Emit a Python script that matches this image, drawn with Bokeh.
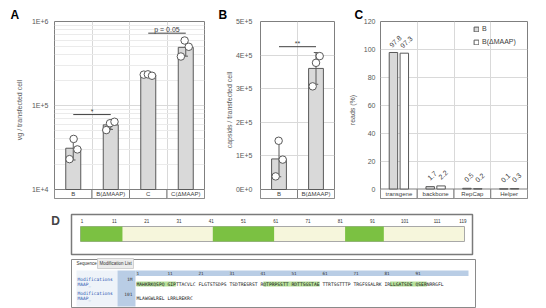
import math
import numpy as np
from bokeh.plotting import figure
from bokeh.layouts import column, row
from bokeh.models import Range1d, FixedTicker, Label, Legend, LegendItem, Grid
from bokeh.core.properties import value
from bokeh.embed import file_html
from bokeh.resources import INLINE

SANS = "Liberation Sans"
MONO = "DejaVu Sans Mono"
AX = "#595959"
GRID = "#d9d9d9"
FRAME = "#7f7f7f"

# ---------------- data ----------------
a_cats = ["B", "B(ΔMAAP)", "C", "C(ΔMAAP)"]
a_reps = [[4.0e4, 3.0e4, 2.3e4], [5.1e4, 6.15e4, 6.4e4],
          [2.33e5, 2.35e5, 2.26e5], [5.94e5, 5.0e5, 3.83e5]]
a_jit = [[0.01, 0.11, -0.10], [-0.12, -0.02, 0.10], [-0.12, -0.01, 0.10], [-0.03, 0.08, -0.13]]
a_ticks = [10000, 100000, 1000000]
a_tick_labels = ["1E+4", "1E+5", "1E+6"]
a_sig_left = [0, 2]
a_sig_right = [1, 3]
a_sig_y = [7.8e4, 7.26e5]
a_sig_text = ["*", "p = 0.05"]

b_cats = ["B", "B(ΔMAAP)"]
b_reps = [[1.45e5, 0.89e5, 0.39e5], [3.97e5, 3.77e5, 3.07e5]]
b_jit = [[-0.01, 0.10, -0.09], [0.10, 0.0, -0.09]]
b_ticks = [0, 100000, 200000, 300000, 400000, 500000]
b_tick_labels = ["0E+0", "1E+5", "2E+5", "3E+5", "4E+5", "5E+5"]
b_sig_left = [0]
b_sig_right = [1]
b_sig_y = [4.25e5]
b_sig_text = ["**"]

c_cats = ["transgene", "backbone", "RepCap", "Helper"]
c_series = ["B", "B(ΔMAAP)"]
c_B = [97.8, 1.7, 0.5, 0.1]
c_dM = [97.3, 2.2, 0.2, 0.3]
c_ticks = [0, 20, 40, 60, 80, 100, 120]

d_length = 119
d_dom_start = [1, 42, 83]
d_dom_end = [13, 60, 94]
d_ruler = [1, 11, 21, 31, 41, 51, 61, 71, 81, 91, 101, 111, 119]
d_seq_row1 = ["MAHKRKQSPQ", "GIPTTACVLC", "FLGTSTSDPS", "TSDTRESRST", "RQTPRPSSTT",
              "RDTTSGSTAE", "TTRTSGTTTP", "TRGFSSALRK", "IRLLGATSDE", "QSERNRRGFL"]
d_seq_row2 = ["MLAWGWLREL", "LRRLREKRC"]
d_tabs = ["Sequence", "Modification List"]


# ---------------- helpers ----------------
def base_fig(n, width, mbl, mbr, y_range, y_type, ticks, tick_labels, standoff,
             letter, letter_offset, ylabel, ylabel_standoff, minor=None):
    p = figure(width=width, height=205, x_range=Range1d(0, n), y_range=y_range,
               y_axis_type=y_type, x_axis_location=None, output_backend="svg",
               toolbar_location=None, min_border_left=mbl, min_border_right=mbr,
               min_border_top=21, min_border_bottom=7)
    p.outline_line_color = FRAME
    p.outline_line_width = 1
    p.grid.visible = False
    p.add_layout(Grid(dimension=0, ticker=FixedTicker(ticks=list(range(1, n))),
                      grid_line_color=GRID, grid_line_width=1))
    p.add_layout(Grid(dimension=1, ticker=FixedTicker(ticks=ticks, minor_ticks=minor or []),
                      grid_line_color=GRID, grid_line_width=1,
                      minor_grid_line_color="#ebebeb" if minor else None))
    ax = p.yaxis[0]
    ax.ticker = FixedTicker(ticks=ticks)
    ax.major_label_overrides = {t: l for t, l in zip(ticks, tick_labels)}
    ax.axis_line_color = None
    ax.major_tick_line_color = None
    ax.minor_tick_line_color = None
    ax.major_tick_out = 0
    ax.major_tick_in = 0
    ax.minor_tick_out = 0
    ax.major_label_standoff = standoff
    ax.major_label_text_font = SANS
    ax.major_label_text_font_size = "7px"
    ax.major_label_text_color = AX
    ax.axis_label = ylabel
    ax.axis_label_standoff = ylabel_standoff
    ax.axis_label_text_font = SANS
    ax.axis_label_text_font_size = "7px"
    ax.axis_label_text_font_style = "normal"
    ax.axis_label_text_color = AX
    p.title.text = letter
    p.title.align = "left"
    p.title.offset = letter_offset
    p.title.standoff = 0
    p.title.text_font = SANS
    p.title.text_font_size = "12px"
    p.title.text_font_style = "bold"
    p.title.text_color = "black"
    return p


def strip(p, cats, lo, hi, mid):
    n = len(cats)
    p.quad(left=list(range(n)), right=list(range(1, n + 1)), bottom=[lo] * n, top=[hi] * n,
           fill_color="white", line_color=FRAME, line_width=1)
    p.text(x=[i + 0.5 for i in range(n)], y=[mid] * n, text=cats, text_align="center",
           text_baseline="middle", text_font=value(SANS), text_font_size="6px",
           text_color="#404040")


def bars_with_dots(p, reps, jit, base):
    n = len(reps)
    xs = [i + 0.5 for i in range(n)]
    means = [float(np.mean(r)) for r in reps]
    sds = [float(np.std(r, ddof=1)) for r in reps]
    p.vbar(x=xs, width=0.4, bottom=[base] * n, top=means, fill_color="#d9d9d9",
           line_color="#595959", line_width=1)
    p.segment(x0=xs, x1=xs, y0=[m - s for m, s in zip(means, sds)],
              y1=[m + s for m, s in zip(means, sds)], line_color="#595959", line_width=1)
    cap = 0.06
    for sign in (-1, 1):
        ys = [m + sign * s for m, s in zip(means, sds)]
        p.segment(x0=[x - cap for x in xs], x1=[x + cap for x in xs], y0=ys, y1=ys,
                  line_color="#595959", line_width=1)
    dx, dy = [], []
    for i, (r, j) in enumerate(zip(reps, jit)):
        for v, o in zip(r, j):
            dx.append(i + 0.5 + o)
            dy.append(v)
    p.scatter(x=dx, y=dy, size=7.5, marker="circle", fill_color="white",
              line_color="#595959", line_width=1)


def sig(p, left, right, ys, texts):
    x0 = [l + 0.5 for l in left]
    x1 = [r + 0.5 for r in right]
    p.segment(x0=x0, x1=x1, y0=ys, y1=ys, line_color="#404040", line_width=1)
    p.text(x=[(a + b) / 2 for a, b in zip(x0, x1)], y=ys, text=texts, text_align="center",
           text_baseline="bottom", text_font=value(SANS), text_font_size="7px",
           text_color="#404040", y_offset=0)


# ---------------- panel A ----------------
FRAC = 9 / 168
a_lo, a_hi = a_ticks[0], a_ticks[-1]
a_strip = a_lo * 10 ** (-math.log10(a_hi / a_lo) * FRAC)
pA = base_fig(4, 215, 54, 11, Range1d(a_strip, a_hi), "log", a_ticks, a_tick_labels, 6,
              "A", -44, "vg / transfected cell", 6,
              minor=[k * 10 ** e for e in (4, 5) for k in range(2, 10)])
strip(pA, a_cats, a_strip, a_lo, math.sqrt(a_strip * a_lo))
bars_with_dots(pA, a_reps, a_jit, a_lo)
sig(pA, a_sig_left, a_sig_right, a_sig_y, a_sig_text)

# ---------------- panel B ----------------
b_lo, b_hi = b_ticks[0], b_ticks[-1]
b_strip = b_lo - (b_hi - b_lo) * FRAC
pB = base_fig(2, 130, 45, 11, Range1d(b_strip, b_hi), "linear", b_ticks, b_tick_labels, 8,
              "B", -42, "capsids / transfected cell", 0)
strip(pB, b_cats, b_strip, b_lo, (b_strip + b_lo) / 2)
bars_with_dots(pB, b_reps, b_jit, b_lo)
sig(pB, b_sig_left, b_sig_right, b_sig_y, b_sig_text)

# ---------------- panel C ----------------
c_lo, c_hi = c_ticks[0], c_ticks[-1]
c_strip = c_lo - (c_hi - c_lo) * 9.5 / 167.5
pC = base_fig(4, 201, 33, 19, Range1d(c_strip, c_hi), "linear", c_ticks,
              [str(t) for t in c_ticks], 5, "C", -26, "reads (%)", 5)
strip(pC, c_cats, c_strip, c_lo, (c_strip + c_lo) / 2)
off, bw = 0.148, 0.23
xB = [i + 0.5 - off for i in range(len(c_cats))]
xD = [i + 0.5 + off for i in range(len(c_cats))]
rB = pC.vbar(x=xB, width=bw, bottom=0, top=c_B, fill_color="#d9d9d9", line_color="#595959",
             line_width=1)
rD = pC.vbar(x=xD, width=bw, bottom=0, top=c_dM, fill_color="white", line_color="#595959",
             line_width=1)
for xs, vals in ((xB, c_B), (xD, c_dM)):
    pC.text(x=xs, y=vals, text=[str(v) for v in vals], angle=0.75, text_align="center",
            text_baseline="middle", x_offset=2, y_offset=-11, text_font=value(SANS),
            text_font_size="7px", text_color="#404040")
leg = Legend(items=[LegendItem(label=c_series[0], renderers=[rB]),
                    LegendItem(label=c_series[1], renderers=[rD])],
             location=(93, 153), glyph_width=6, glyph_height=6, label_height=7,
             label_standoff=3, spacing=6, padding=0, margin=0,
             label_text_font=SANS, label_text_font_size="7px", label_text_color="#404040",
             border_line_color=None, background_fill_alpha=0)
pC.add_layout(leg)

# ---------------- panel D ----------------
RES_PX0, RES_PX1 = 80.0, 464.0
rs = (RES_PX1 - RES_PX0) / d_length
SEQ_PX0, CH = 136.0, 2.818
pD = figure(width=546, height=103,
            x_range=Range1d(-RES_PX0 / rs, (546 - RES_PX0) / rs),
            y_range=Range1d(308, 205), x_axis_location=None, y_axis_location=None,
            output_backend="svg", toolbar_location=None,
            min_border_left=0, min_border_right=0, min_border_top=0, min_border_bottom=0)
pD.extra_x_ranges = {"px": Range1d(0, 546), "seq": Range1d(-SEQ_PX0 / CH, (546 - SEQ_PX0) / CH)}
pD.outline_line_color = None
pD.grid.visible = False

# feature viewer box
pD.quad(left=71, right=472, top=214, bottom=254, fill_color="white", line_color="#7a7a7a",
        line_width=1.5, x_range_name="px")
pD.quad(left=0, right=d_length, top=226, bottom=241, fill_color="#f6f6dc",
        line_color="#a8a8a8", line_width=1)
pD.quad(left=[s - 1 for s in d_dom_start], right=d_dom_end, top=226, bottom=241,
        fill_color="#7bc142", line_color=None)
pD.text(x=[r - 0.5 for r in d_ruler], y=220, text=[str(r) for r in d_ruler],
        text_align="center", text_baseline="middle", text_font=value(SANS),
        text_font_size="4.5px", text_color="#333333")

# sequence viewer box
pD.quad(left=71, right=475, top=259, bottom=307, fill_color="white", line_color="#8a8a8a",
        line_width=1, x_range_name="px")
pD.quad(left=97, right=133, top=258, bottom=268, fill_color="#ececec", line_color="#c8c8c8",
        line_width=0.8, x_range_name="px")
pD.text(x=[76, 99], y=263, text=d_tabs, text_baseline="middle", text_font=value(SANS),
        text_font_size="4.5px", text_color="#333333", x_range_name="px")
pD.quad(left=76, right=117, top=270, bottom=306, fill_color="#eef3f9", line_color=None,
        x_range_name="px")
pD.quad(left=117, right=135, top=270, bottom=306, fill_color="#b9cde5", line_color=None,
        x_range_name="px")
pD.quad(left=135, right=468, top=270, bottom=275.5, fill_color="#b9cde5", line_color=None,
        x_range_name="px")
pD.text(x=[g * 11 for g in range(len(d_seq_row1))], y=272.8,
        text=[str(1 + 10 * g) for g in range(len(d_seq_row1))], text_baseline="middle",
        text_font=value(MONO), text_font_size="4.3px", text_color="#333333", x_range_name="seq")

# domain highlights in the sequence text
hl_l = [(s - 1) + (s - 1) // 10 for s in d_dom_start]
hl_r = [(e - 1) + (e - 1) // 10 + 1 for e in d_dom_end]
pD.quad(left=hl_l, right=hl_r, top=281, bottom=286, fill_color="#b7e19a", line_color=None,
        x_range_name="seq")

pD.text(x=77, y=[279, 283.5, 293, 297.5], text=["Modifications", "MAAP_", "Modifications", "MAAP_"],
        text_baseline="middle", text_font=value(MONO), text_font_size="4.5px",
        text_color="#2a55b0", x_range_name="px")
pD.text(x=132, y=[279, 293], text=["1M", "101"], text_align="right", text_baseline="middle",
        text_font=value(MONO), text_font_size="4.5px", text_color="#333333", x_range_name="px")
pD.text(x=[g * 11 for g in range(len(d_seq_row1))], y=283.5, text=d_seq_row1,
        text_baseline="middle", text_font=value(MONO), text_font_size="4.68px",
        text_color="#222222", x_range_name="seq")
pD.text(x=[g * 11 for g in range(len(d_seq_row2))], y=298, text=d_seq_row2,
        text_baseline="middle", text_font=value(MONO), text_font_size="4.68px",
        text_color="#222222", x_range_name="seq")
pD.add_layout(Label(x=55, y=220, x_range_name="px", text="D", text_font=SANS,
                    text_font_size="12px", text_font_style="bold", text_align="center",
                    text_baseline="middle"))

layout = column(row(pA, pB, pC, spacing=0), pD, spacing=0)
open("out.html", "w").write(file_html(layout, INLINE))
